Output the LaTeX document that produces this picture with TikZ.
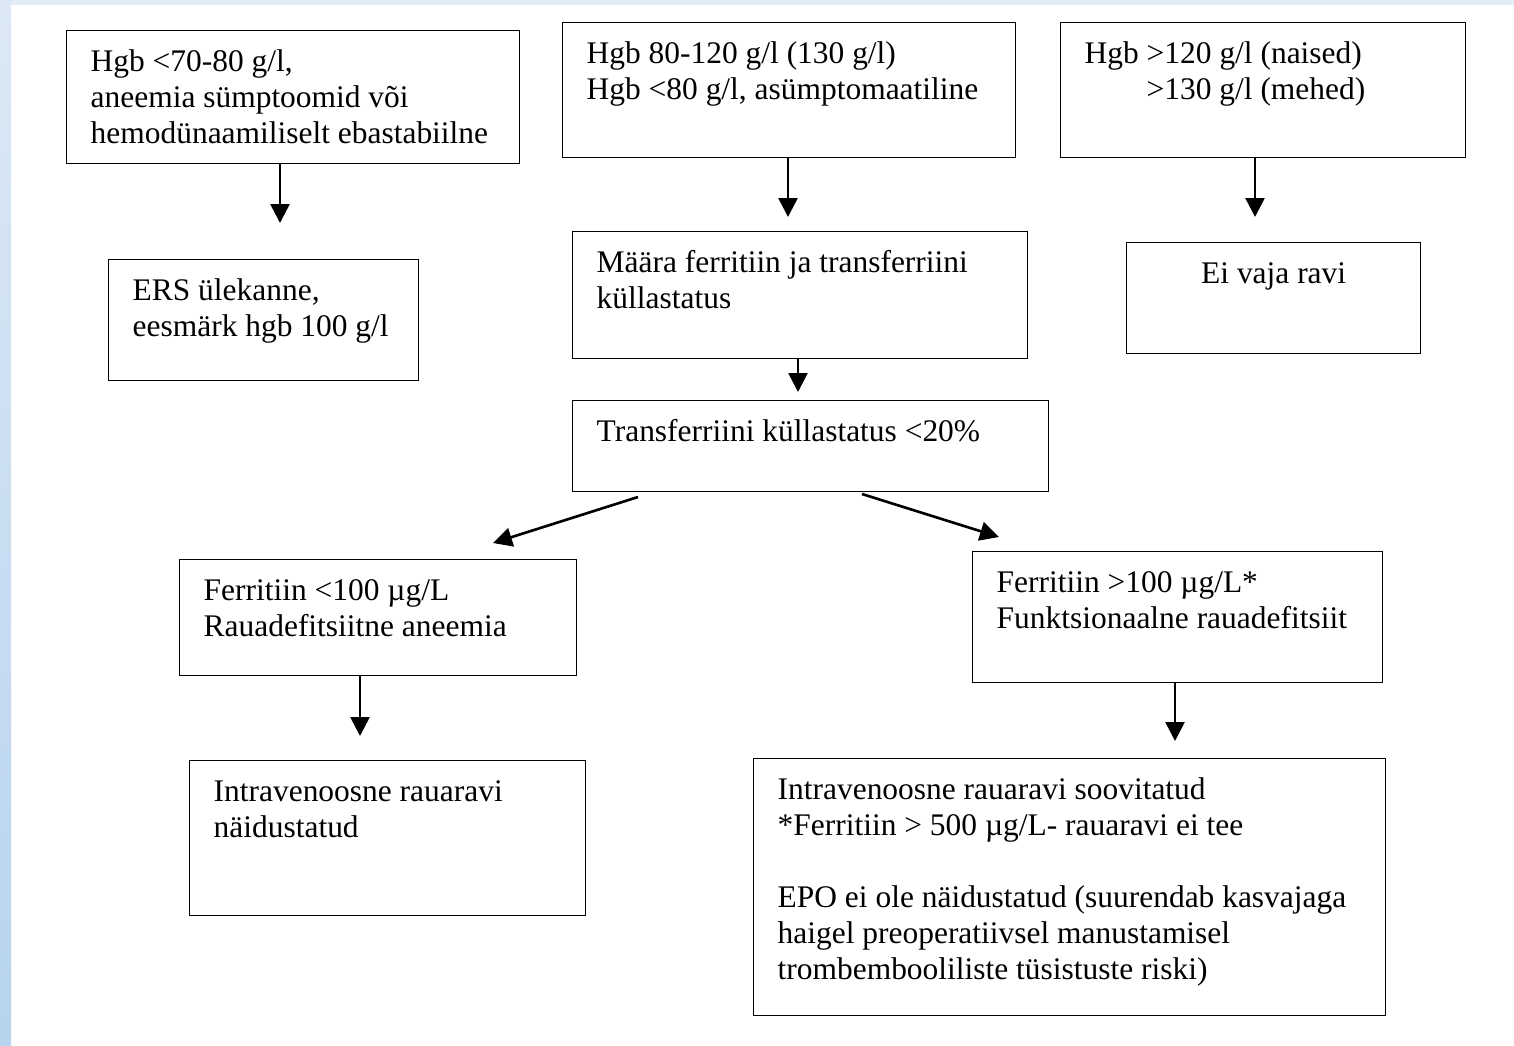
\documentclass[tikz,border=0pt]{standalone}
\usepackage{fontspec}
\setmainfont{Liberation Serif}
\usetikzlibrary{positioning, arrows.meta}

\definecolor{stripblue}{HTML}{E2ECF7}
\definecolor{sidetop}{HTML}{DCE8F5}
\definecolor{sidebottom}{HTML}{B7D3EE}

% box text: outer width, outer height (cm), lines
\newcommand{\boxtext}[3]{\begin{minipage}[c][\dimexpr#2cm-0.62cm\relax][t]{\dimexpr#1cm-0.96cm\relax}\raggedright\strut#3\end{minipage}}

\begin{document}
\begin{tikzpicture}[x=0.02cm, y=-0.02cm, font=\fontsize{17.9pt}{20.5pt}\selectfont,
  box/.style={draw, line width=0.8pt, anchor=north west, inner xsep=0.48cm, inner ysep=0.31cm},
  arrow/.style={-{Triangle[length=0.38cm, width=0.38cm]}, line width=1.5pt}]

\useasboundingbox (0,0) rectangle (1514,1045);

% background strips
\fill[stripblue] (0,0) rectangle (1514,5);
\shade[top color=sidetop, bottom color=sidebottom] (0,0) rectangle (11,1045);

% top row of boxes

\node[box] (lowhgb) at (66,30) {\boxtext{9.06}{2.66}{Hgb <70-80 g/l,\\aneemia sümptoomid või\\hemodünaamiliselt ebastabiilne}};
\node[box] (midhgb) at (562,22) {\boxtext{9.06}{2.70}{Hgb 80-120 g/l (130 g/l)\\Hgb <80 g/l, asümptomaatiline}};
\node[box] (highhgb) at (1060,22) {\boxtext{8.10}{2.70}{Hgb >120 g/l (naised)\\\hspace*{1.24cm}>130 g/l (mehed)}};

% second row

\node[box] (ers) at (108,259) {\boxtext{6.20}{2.42}{ERS ülekanne,\\eesmärk hgb 100 g/l}};
\node[box] (maara) at (572,231) {\boxtext{9.10}{2.54}{Määra ferritiin ja transferriini\\küllastatus}};
\node[box] (noravi) at (1126,242) {\boxtext{5.88}{2.22}{\centering Ei vaja ravi}};
\node[box] (transf) at (572,400) {\boxtext{9.52}{1.82}{Transferriini küllastatus <20\%}};

% ferritin branches

\node[box] (ferlow) at (179,559) {\boxtext{7.94}{2.32}{Ferritiin <100 µg/L\\Rauadefitsiitne aneemia}};
\node[box] (ferhigh) at (972,551) {\boxtext{8.20}{2.62}{Ferritiin >100 µg/L*\\Funktsionaalne rauadefitsiit}};
\node[box] (ivlow) at (189,760) {\boxtext{7.92}{3.10}{Intravenoosne rauaravi\\näidustatud}};
\node[box] (ivhigh) at (753,758) {\boxtext{12.64}{5.14}{Intravenoosne rauaravi soovitatud\\{*}Ferritiin > 500 µg/L- rauaravi ei tee\\[\baselineskip]EPO ei ole näidustatud (suurendab kasvajaga\\haigel preoperatiivsel manustamisel\\trombembooliliste tüsistuste riski)}};

% arrow ends

\coordinate (lowtip) at (280,223);
\coordinate (midtip) at (788,217);
\coordinate (hightip) at (1255,217);
\coordinate (maaratip) at (798,392);
\coordinate (leftstart) at (638,497);
\coordinate (lefttip) at (493,543);
\coordinate (rightstart) at (862,494);
\coordinate (righttip) at (999,537);
\coordinate (ferlowtip) at (360,736);
\coordinate (ferhightip) at (1175,741);

% arrows

\draw[arrow] (lowtip |- lowhgb.south) -- (lowtip);
\draw[arrow] (midtip |- midhgb.south) -- (midtip);
\draw[arrow] (hightip |- highhgb.south) -- (hightip);
\draw[arrow] (maaratip |- maara.south) -- (maaratip);
\draw[arrow] (leftstart) -- (lefttip);
\draw[arrow] (rightstart) -- (righttip);
\draw[arrow] (ferlowtip |- ferlow.south) -- (ferlowtip);
\draw[arrow] (ferhightip |- ferhigh.south) -- (ferhightip);

\end{tikzpicture}
\end{document}
